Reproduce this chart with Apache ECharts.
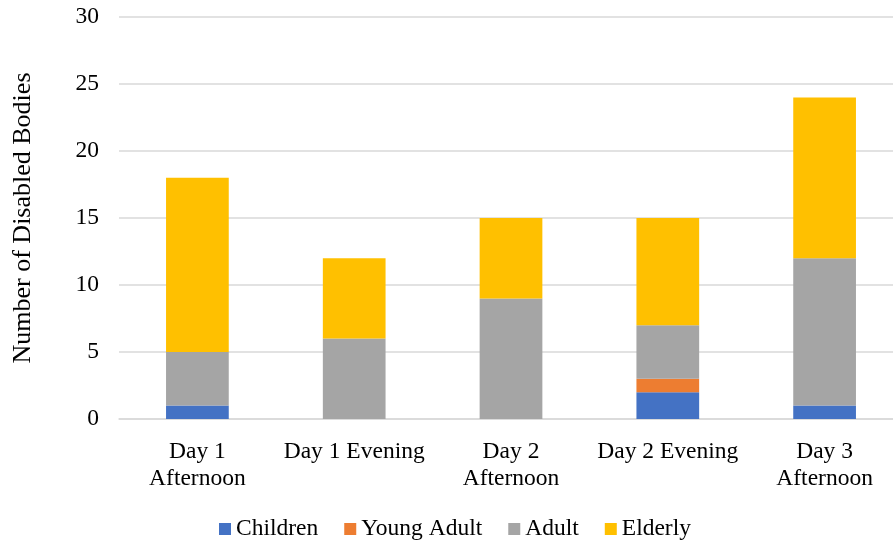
<!DOCTYPE html>
<html>
<head>
<meta charset="utf-8">
<script src="https://cdn.jsdelivr.net/npm/echarts@6/dist/echarts.min.js"></script>
<style>
  html, body { margin: 0; padding: 0; background: #fff; overflow: hidden; }
  /* the plot runs slightly past the right edge of the page */
  #chart { width: 903px; height: 542px; }
</style>
</head>
<body>
<div id="chart"></div>
<script>
// Time slots along the x axis
const categories = ['Day 1\nAfternoon', 'Day 1 Evening', 'Day 2\nAfternoon', 'Day 2 Evening', 'Day 3\nAfternoon'];

// Disabled bodies per age group, stacked per time slot
const children   = [1, 0, 0, 2, 1];
const youngAdult = [0, 0, 0, 1, 0];
const adult      = [4, 6, 9, 4, 11];
const elderly    = [13, 6, 6, 8, 12];

const seriesNames  = ['Children', 'Young Adult', 'Adult', 'Elderly'];
const seriesColors = ['#4472C4', '#ED7D31', '#A5A5A5', '#FFC000'];
const seriesData   = [children, youngAdult, adult, elderly];

const FONT = '"Liberation Serif", "Times New Roman", serif';

const chart = echarts.init(document.getElementById('chart'));
chart.setOption({
  animation: false,
  textStyle: { fontFamily: FONT },
  grid: { left: 119, right: 0, top: 17, bottom: 123, containLabel: false },
  legend: {
    left: 219,
    top: 517,
    padding: 0,
    itemWidth: 12,
    itemHeight: 12,
    itemGap: 26,
    icon: 'rect',
    textStyle: { fontFamily: FONT, fontSize: 23.5, color: '#000' },
    data: seriesNames
  },
  xAxis: {
    type: 'category',
    data: categories,
    axisLine: { show: true, lineStyle: { color: '#d9d9d9', width: 1.5 } },
    axisTick: { show: false },
    axisLabel: { interval: 0, fontFamily: FONT, fontSize: 23.5, color: '#000', margin: 19, lineHeight: 27 }
  },
  yAxis: {
    type: 'value',
    min: 0,
    max: 30,
    interval: 5,
    name: 'Number of Disabled Bodies',
    nameLocation: 'middle',
    nameGap: 83,
    nameRotate: 90,
    nameTextStyle: { fontFamily: FONT, fontSize: 26, color: '#000' },
    axisLine: { show: false },
    axisTick: { show: false },
    axisLabel: { fontFamily: FONT, fontSize: 23.5, color: '#000', margin: 20 },
    splitLine: { lineStyle: { color: '#d9d9d9', width: 1.5 } }
  },
  series: seriesNames.map((name, i) => ({
    name: name,
    type: 'bar',
    stack: 'total',
    barWidth: '40%',
    itemStyle: { color: seriesColors[i] },
    data: seriesData[i]
  }))
});
</script>
</body>
</html>
